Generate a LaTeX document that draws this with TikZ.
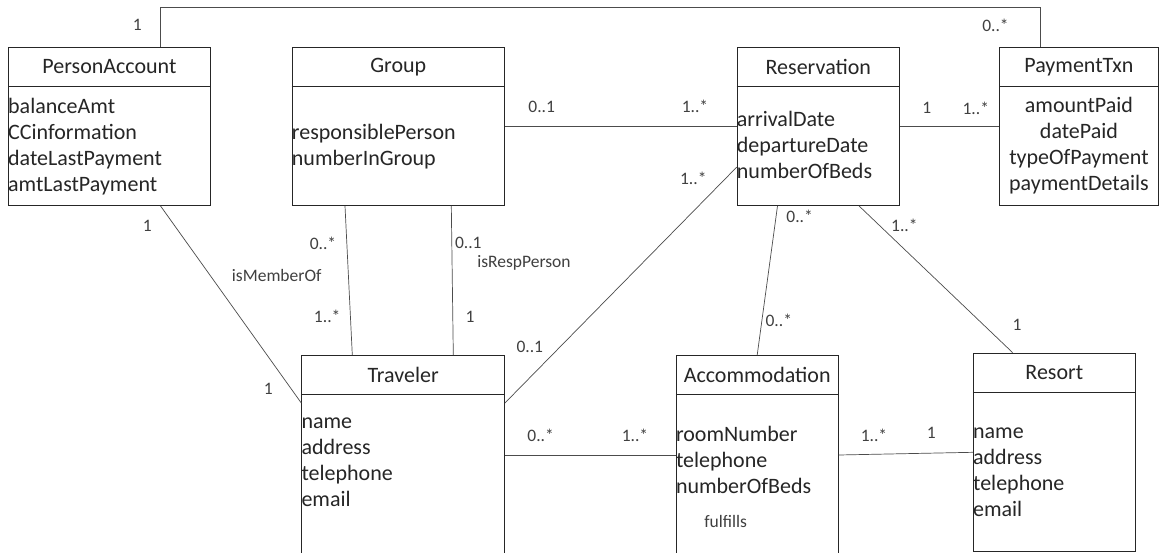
\documentclass[tikz,border=0pt]{standalone}
\usepackage{fontspec}
\setmainfont{Carlito}
\usetikzlibrary{positioning,calc}
\tikzset{
  classbox/.style={draw=black!85, line width=0.9pt, inner sep=0pt, anchor=north west},
  boxline/.style={draw=black!85, line width=0.9pt},
  classname/.style={font=\fontsize{22}{26}\selectfont, text=black!85, inner sep=0pt},
  attrs/.style={font=\fontsize{22}{26.2}\selectfont, text=black!85, align=left, inner sep=0pt, anchor=base west},
  link/.style={draw=black!70, line width=0.7pt},
  mult/.style={font=\fontsize{17.5}{20}\selectfont, text=black!75, inner sep=0pt}
}

\begin{document}
\begin{tikzpicture}[x=1pt,y=-1pt]
  \useasboundingbox (0,0) rectangle (1159,552);
  \clip (0,0) rectangle (1159,552);
  \fill[white] (0,0) rectangle (1159,552);

  % classes
  \node[classbox, minimum width=202pt,   minimum height=158pt] (pacct)  at (8,47) {};
  \node[classbox, minimum width=212.3pt, minimum height=158pt] (grp)    at (291.7,47) {};
  \node[classbox, minimum width=162.3pt, minimum height=158pt] (resv)   at (736.7,47) {};
  \node[classbox, minimum width=158.4pt, minimum height=158pt] (ptxn)   at (999.3,47) {};
  \node[classbox, minimum width=202.7pt, minimum height=220pt] (trav)   at (301.3,355) {};
  \node[classbox, minimum width=161.9pt, minimum height=220pt] (acc)    at (675.8,355) {};
  \node[classbox, minimum width=161.9pt, minimum height=198pt] (resort) at (972.9,352.7) {};

  % header separators
  \foreach \c in {pacct,grp,resv,ptxn,trav,acc,resort}
    \draw[boxline] ([yshift=-39.6pt]\c.north west) -- ([yshift=-39.6pt]\c.north east);

  % class names
  \node[classname] (pacct-t)  at ([yshift=-19.8pt]pacct.north)  {PersonAccount};
  \node[classname] (grp-t)    at ([yshift=-19.8pt]grp.north)    {Group};
  \node[classname] (resv-t)   at ([yshift=-19.8pt]resv.north)   {Reservation};
  \node[classname] (ptxn-t)   at ([yshift=-19.8pt]ptxn.north)   {PaymentTxn};
  \node[classname] (trav-t)   at ([yshift=-19.8pt]trav.north)   {Traveler};
  \node[classname] (acc-t)    at ([yshift=-19.8pt]acc.north)    {Accommodation};
  \node[classname] (resort-t) at ([yshift=-19.8pt]resort.north) {Resort};

  % attributes (base anchor sits on the last line)
  \node[attrs] (pacct-a) at ([yshift=-144.6pt]pacct.north west)
    {balanceAmt\\CCinformation\\dateLastPayment\\amtLastPayment};
  \node[attrs] (grp-a) at ([yshift=-118.2pt]grp.north west)
    {responsiblePerson\\numberInGroup};
  \node[attrs] (resv-a) at ([yshift=-131.4pt]resv.north west)
    {arrivalDate\\departureDate\\numberOfBeds};
  \node[attrs, align=center, anchor=base] (ptxn-a) at ([yshift=-143.6pt]ptxn.north)
    {amountPaid\\datePaid\\typeOfPayment\\paymentDetails};
  \node[attrs] (trav-a) at ([yshift=-151.6pt]trav.north west)
    {name\\address\\telephone\\email};
  \node[attrs] (acc-a) at ([yshift=-138.4pt]acc.north west)
    {roomNumber\\telephone\\numberOfBeds};
  \node[attrs] (resort-a) at ([yshift=-163.9pt]resort.north west)
    {name\\address\\telephone\\email};

  % associations
  \draw[link] ([xshift=152.5pt]pacct.north west) -- ++(0,-40) -| ([xshift=41pt]ptxn.north west);
  \draw[link] (grp.east) -- (resv.west);
  \draw[link] (resv.east) -- (ptxn.west);
  \draw[link] ([yshift=-40.7pt]resv.west) -- ([yshift=-48pt]trav.north east);
  \draw[link] ([xshift=152.5pt]pacct.south west) -- ([yshift=-48pt]trav.north west);
  \draw[link] ([xshift=53.3pt]grp.south west) -- ([xshift=51pt]trav.north west);
  \draw[link] ([xshift=159.6pt]grp.south west) -- ([xshift=152pt]trav.north west);
  \draw[link] ([xshift=40.8pt]resv.south west) -- ([xshift=81.4pt]acc.north west);
  \draw[link] ([xshift=122.3pt]resv.south west) -- ([xshift=39.8pt]resort.north west);
  \draw[link] ([yshift=-100pt]trav.north east) -- ([yshift=-100pt]acc.north west);
  \draw[link] ([yshift=-100pt]acc.north east) -- ([yshift=-99.6pt]resort.north west);

  % multiplicities and role names
  \node[mult] (m1)  at (137.3,25)   {1};
  \node[mult] (m2)  at (995.5,25)   {0..*};
  \node[mult] (m3)  at (541.7,106.7) {0..1};
  \node[mult] (m4)  at (695,106.7)  {1..*};
  \node[mult] (m5)  at (926.7,108)  {1};
  \node[mult] (m6)  at (975.8,108)  {1..*};
  \node[mult] (m7)  at (693.3,178.3) {1..*};
  \node[mult] (m8)  at (147.3,226)  {1};
  \node[mult] (m9)  at (268.3,389)  {1};
  \node[mult] (m10) at (323,243.3)  {0..*};
  \node[mult] (m11) at (327.2,316)  {1..*};
  \node[mult] (m12) at (468.3,243.3) {0..1};
  \node[mult] (m13) at (470,317.3)  {1};
  \node[mult] (m14) at (799.6,216.7) {0..*};
  \node[mult] (m15) at (904.4,225)  {1..*};
  \node[mult] (m16) at (529.8,346.7) {0..1};
  \node[mult] (m17) at (778.8,320)  {0..*};
  \node[mult] (m18) at (1017,325)   {1};
  \node[mult] (m19) at (540.6,435)  {0..*};
  \node[mult] (m20) at (635,435)    {1..*};
  \node[mult] (m21) at (874,435)    {1..*};
  \node[mult] (m22) at (931.3,433.3) {1};
  \node[mult] (memberof) at (276.7,275)   {isMemberOf};
  \node[mult] (resp)     at (524,263.3)   {isRespPerson};
  \node[mult] (fulfills) at (725.6,521.7) {fulfills};
\end{tikzpicture}
\end{document}
